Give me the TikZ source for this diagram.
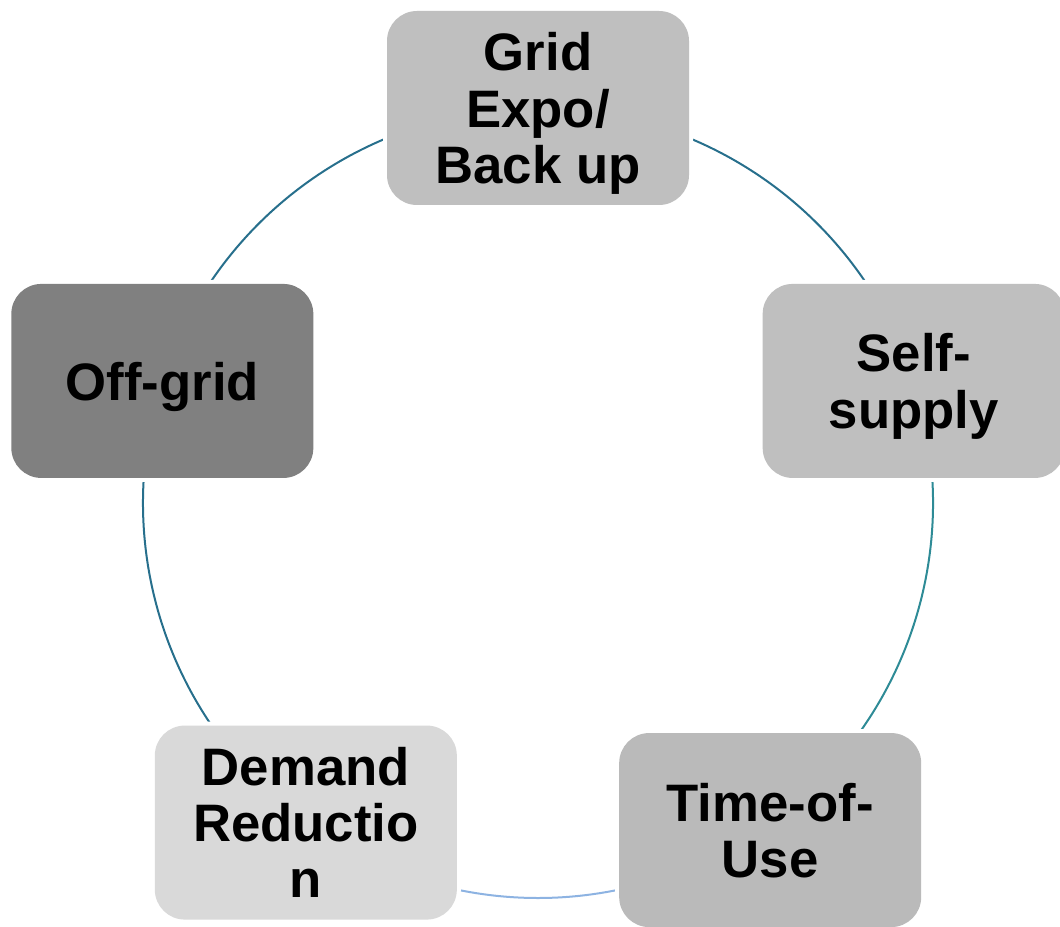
\documentclass[tikz,border=0pt]{standalone}
\usepackage{fontspec}
\setmainfont{Liberation Sans}
\usetikzlibrary{backgrounds,calc}

\definecolor{arcblue}{HTML}{276F8C}
\definecolor{arcteal}{HTML}{2E8B96}
\definecolor{arclight}{HTML}{8DB3E2}

\tikzset{
    cyclebox/.style={rounded corners=0.6cm, minimum width=6.04cm, minimum height=3.88cm,
        inner sep=0pt, align=center, text depth=0pt, font=\fontsize{30}{32}\selectfont\bfseries,
        preaction={draw=white, line width=0.16cm}},
    cyclearc/.style={line width=0.04cm}
}

\begin{document}
\begin{tikzpicture}
            \useasboundingbox (0,0) rectangle (21.2,18.52);
            \coordinate (c) at (10.76,8.46);
            \coordinate (tou-c) at ($(c)+(-54:7.9)$);
            \node[cyclebox, fill=black!25] (grid) at ($(c)+(90:7.9)$) {Grid\\Expo/\\Back up};
            \node[cyclebox, fill=black!25] (self) at ($(c)+(18:7.9)$) {Self-\\supply};
            \node[cyclebox, fill=black!27] (tou) at ($(tou-c)+(0,-0.15)$) {Time-of-\\Use};
            \node[cyclebox, fill=black!15] (demand) at ($(c)+(234:7.9)$) {Demand\\Reductio\\n};
            \node[cyclebox, fill=black!50] (offgrid) at ($(c)+(162:7.9)$) {Off-grid};
            \begin{scope}[on background layer]
                \draw[cyclearc, arcblue] (grid.center) arc[start angle=90, end angle=18, radius=7.9];
                \draw[cyclearc, arcteal] (self.center) arc[start angle=18, end angle=-54, radius=7.9];
                \draw[cyclearc, arclight] (tou-c) arc[start angle=-54, end angle=-126, radius=7.9];
                \draw[cyclearc, arcblue] (demand.center) arc[start angle=234, end angle=162, radius=7.9];
                \draw[cyclearc, arcblue] (offgrid.center) arc[start angle=162, end angle=90, radius=7.9];
            \end{scope}
        \end{tikzpicture}
\end{document}
